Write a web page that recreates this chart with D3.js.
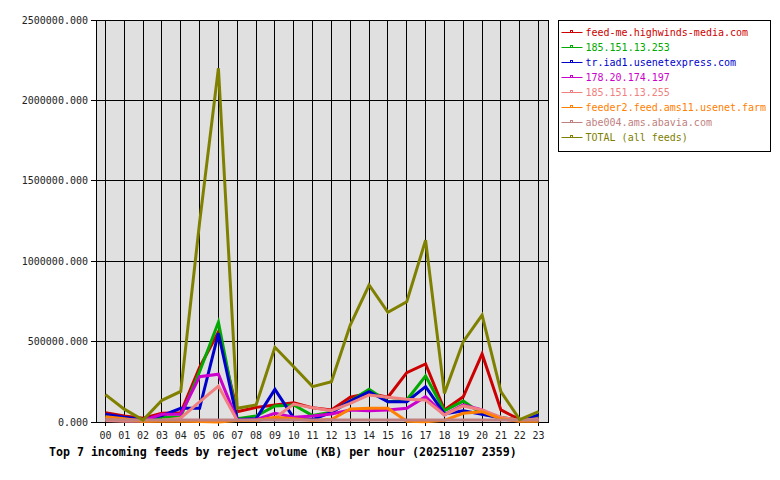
<!DOCTYPE html>
<html>
<head>
<meta charset="utf-8">
<script src="https://cdn.jsdelivr.net/npm/d3@7"></script>
<style>
  body { margin: 0; background: #fff; }
  text { font-family: "DejaVu Sans Mono", monospace; }
</style>
</head>
<body>
<div id="chart"></div>
<script>
const hours = ["00","01","02","03","04","05","06","07","08","09","10","11",
               "12","13","14","15","16","17","18","19","20","21","22","23"]
const yTicks = [0, 500000, 1000000, 1500000, 2000000, 2500000]

const feedNames = [
  "feed-me.highwinds-media.com",
  "185.151.13.253",
  "tr.iad1.usenetexpress.com",
  "178.20.174.197",
  "185.151.13.255",
  "feeder2.feed.ams11.usenet.farm",
  "abe004.ams.abavia.com",
  "TOTAL (all feeds)"
]

const highwinds = [58000, 37000, 23000, 54000, 58000, 340000, 560000, 64000, 91000, 106000, 120000, 88000,
                   75000, 154000, 178000, 154000, 307000, 361000, 75000, 157000, 423000, 75000, 15000, 20000]
const ip253 = [30000, 25000, 15000, 30000, 33000, 313000, 620000, 20000, 37000, 100000, 106000, 40000,
               60000, 130000, 203000, 126000, 137000, 286000, 70000, 130000, 50000, 30000, 10000, 40000]
const usenetexpress = [48000, 30000, 15000, 40000, 85000, 85000, 552000, 15000, 20000, 203000, 25000, 15000,
                       60000, 130000, 189000, 126000, 126000, 220000, 50000, 70000, 48000, 25000, 10000, 44000]
const ip197 = [20000, 15000, 10000, 48000, 48000, 282000, 297000, 10000, 15000, 54000, 30000, 37000,
               50000, 75000, 70000, 75000, 85000, 157000, 44000, 106000, 75000, 20000, 8000, 15000]
const ip255 = [10000, 5000, 5000, 10000, 25000, 125000, 224000, 10000, 10000, 25000, 112000, 88000,
               70000, 116000, 168000, 154000, 141000, 137000, 44000, 100000, 75000, 30000, 10000, 20000]
const ams11 = [33000, 20000, 5000, 5000, 5000, 3000, 0, 10000, 10000, 29000, 20000, 10000,
               15000, 81000, 85000, 85000, 5000, 2000, 10000, 54000, 64000, 20000, 5000, 5000]
const abavia = [16000, 13000, 12000, 12000, 12000, 12000, 12000, 12000, 12000, 12000, 12000, 12000,
                12000, 12000, 12000, 12000, 12000, 12000, 12000, 12000, 12000, 12000, 12000, 12000]
const total = [170000, 80000, 12000, 135000, 190000, 1240000, 2200000, 85000, 106000, 465000, 344000, 220000,
               250000, 603000, 852000, 682000, 748000, 1130000, 178000, 500000, 665000, 189000, 15000, 64000]

const colors = ["#cc0000", "#00aa00", "#0000cc", "#cc00cc", "#f08080", "#ff8000", "#c08080", "#808000"]
const series = [highwinds, ip253, usenetexpress, ip197, ip255, ams11, abavia, total]

const width = 780
const height = 480
const margin = {top: 20, right: 232, bottom: 58, left: 96}

const svg = d3.select("#chart").append("svg")
  .attr("width", width)
  .attr("height", height)

const x = d3.scalePoint()
  .domain(hours)
  .range([margin.left, width - margin.right])
  .padding(0.5)

const y = d3.scaleLinear()
  .domain([0, 2500000])
  .range([height - margin.bottom, margin.top])

// plot background
svg.append("rect")
  .attr("x", margin.left)
  .attr("y", margin.top)
  .attr("width", width - margin.right - margin.left)
  .attr("height", height - margin.bottom - margin.top)
  .attr("fill", "#e0e0e0")

// grid
const grid = svg.append("g")
  .attr("stroke", "#000")
  .attr("stroke-width", 1)
  .attr("shape-rendering", "crispEdges")

grid.selectAll(".vgrid")
  .data(hours)
  .join("line")
  .attr("x1", d => x(d)).attr("x2", d => x(d))
  .attr("y1", margin.top).attr("y2", height - margin.bottom + 4)

grid.selectAll(".hgrid")
  .data(yTicks)
  .join("line")
  .attr("x1", margin.left - 5).attr("x2", width - margin.right)
  .attr("y1", d => y(d)).attr("y2", d => y(d))

grid.append("rect")
  .attr("x", margin.left)
  .attr("y", margin.top)
  .attr("width", width - margin.right - margin.left)
  .attr("height", height - margin.bottom - margin.top)
  .attr("fill", "none")

// axes labels
svg.append("g")
  .attr("transform", `translate(${margin.left - 8}, 0)`)
  .selectAll("text")
  .data(yTicks)
  .join("text")
  .attr("y", d => y(d))
  .attr("dy", "0.35em")
  .attr("text-anchor", "end")
  .attr("font-size", 10)
  .attr("fill", "#222")
  .text(d => d3.format(".3f")(d))

svg.append("g")
  .selectAll("text")
  .data(hours)
  .join("text")
  .attr("x", d => x(d))
  .attr("y", height - margin.bottom + 17)
  .attr("text-anchor", "middle")
  .attr("font-size", 10)
  .attr("fill", "#222")
  .text(d => d)

// lines
const line = d3.line()
  .x((d, i) => x(hours[i]))
  .y(d => y(d))

svg.append("g")
  .selectAll("path")
  .data(series)
  .join("path")
  .attr("fill", "none")
  .attr("stroke", (d, i) => colors[i])
  .attr("stroke-width", 3)
  .attr("stroke-linejoin", "miter")
  .attr("d", line)

// title
svg.append("text")
  .attr("x", 49)
  .attr("y", 456)
  .attr("font-size", 11.6)
  .attr("font-weight", "bold")
  .attr("fill", "#000")
  .text("Top 7 incoming feeds by reject volume (KB) per hour (20251107 2359)")

// legend
const legend = svg.append("g").attr("transform", "translate(558.5, 20.5)")

legend.append("rect")
  .attr("width", 212)
  .attr("height", 131)
  .attr("fill", "#fff")
  .attr("stroke", "#000")

const item = legend.selectAll(".item")
  .data(feedNames)
  .join("g")
  .attr("transform", (d, i) => `translate(0, ${12 + i * 15})`)

item.append("line")
  .attr("x1", 3).attr("x2", 24)
  .attr("stroke", (d, i) => colors[i])
  .attr("stroke-width", 1)

item.append("rect")
  .attr("x", 12).attr("y", -2)
  .attr("width", 2).attr("height", 2)
  .attr("fill", "none")
  .attr("stroke", (d, i) => colors[i])
  .attr("stroke-width", 1)

item.append("text")
  .attr("x", 27)
  .attr("dy", "0.35em")
  .attr("font-size", 10)
  .attr("fill", (d, i) => colors[i])
  .text(d => d)
</script>
</body>
</html>
